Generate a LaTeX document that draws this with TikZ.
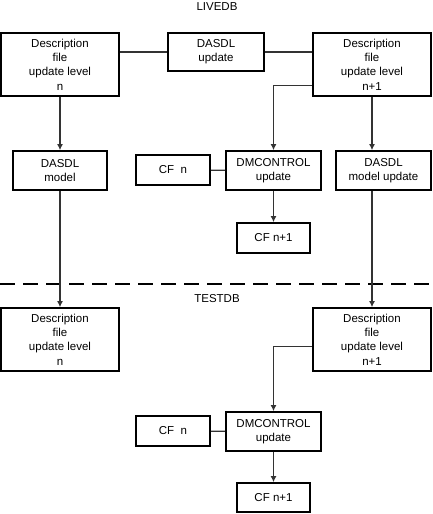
\documentclass[tikz,border=0pt]{standalone}
\usepackage{fontspec}
\setmainfont{Liberation Sans}
\usetikzlibrary{positioning,calc,arrows.meta}

\begin{document}
\begin{tikzpicture}[x=1pt,y=1pt,
    box/.style={draw, line width=1.7pt, align=center, inner sep=0pt, font=\fontsize{11.5}{14.3}\selectfont},
    conn/.style={draw=black!80, line width=1.2pt},
    arr/.style={conn, -{Latex[length=6pt,width=6pt]}}]
    \useasboundingbox (0,0) rectangle (432,514);

    % LIVEDB
    \node [font=\fontsize{11.5}{13}\selectfont] (livedb) at (217,507) {LIVEDB};
    \node [box, minimum width=118pt, minimum height=63pt] (ldescn) at (60,449.5) {Description\\file\\update level\\n};
    \node [box, minimum width=96pt, minimum height=38pt] (ldasdl) at (216,462) {DASDL\\update};
    \node [box, minimum width=118pt, minimum height=63pt] (ldescnn) at (372,449.5) {Description\\file\\update level\\n+1};
    \node [box, minimum width=94pt, minimum height=39pt] (lmodel) at (60,343.5) {DASDL\\model};
    \node [box, minimum width=74pt, minimum height=30pt] (lcfn) at (173,344) {CF~~n};
    \node [box, minimum width=95pt, minimum height=39pt] (ldmc) at (273.5,343.5) {DMCONTROL\\update};
    \node [box, minimum width=95pt, minimum height=39pt] (lmodelupd) at (383.5,343.5) {DASDL\\model update};
    \node [box, minimum width=73pt, minimum height=30pt] (lcfnn) at (273.5,276) {CF n+1};

    \draw [conn] (ldasdl.west) -- (ldasdl.west -| ldescn.east);
    \draw [conn] (ldasdl.east) -- (ldasdl.east -| ldescnn.west);
    \draw [arr] ([yshift=11pt]ldescnn.south west) -| (ldmc);
    \draw [arr] (ldescn) -- (lmodel);
    \draw [arr] (ldescnn.south) -- (ldescnn.south |- lmodelupd.north);
    \draw [conn] (lcfn) -- (ldmc);
    \draw [arr] (ldmc) -- (lcfnn);

    % Border between the databases
    \draw [line width=2pt, dash pattern=on 15pt off 8pt] (0,230) -- (432,230);

    % TESTDB
    \node [font=\fontsize{11.5}{13}\selectfont] (testdb) at (217,215) {TESTDB};
    \node [box, minimum width=118pt, minimum height=63pt] (tdescn) at (60,174.5) {Description\\file\\update level\\n};
    \node [box, minimum width=118pt, minimum height=63pt] (tdescnn) at (372,174.5) {Description\\file\\update level\\n+1};
    \node [box, minimum width=74pt, minimum height=30pt] (tcfn) at (173,83) {CF~~n};
    \node [box, minimum width=95pt, minimum height=39pt] (tdmc) at (273.5,82.5) {DMCONTROL\\update};
    \node [box, minimum width=73pt, minimum height=29pt] (tcfnn) at (273.5,16.5) {CF n+1};

    \draw [arr] (lmodel) -- (tdescn);
    \draw [arr] (tdescnn.north |- lmodelupd.south) -- (tdescnn);
    \draw [arr] ([yshift=25pt]tdescnn.south west) -| (tdmc);
    \draw [conn] (tcfn) -- (tdmc);
    \draw [arr] (tdmc) -- (tcfnn);
\end{tikzpicture}
\end{document}
